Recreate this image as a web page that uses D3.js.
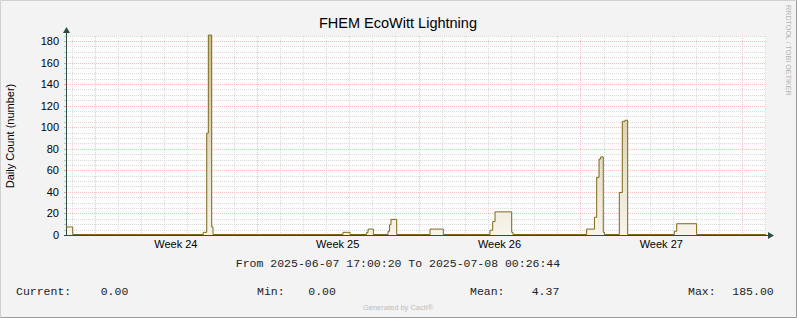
<!DOCTYPE html>
<html>
<head>
<meta charset="utf-8">
<script src="https://cdn.jsdelivr.net/npm/d3@7"></script>
<style>
  html, body { margin: 0; padding: 0; background: #f3f3f3; }
  svg { display: block; }
</style>
</head>
<body>
<svg id="chart" width="797" height="318"></svg>
<script>
// ---------------- data ----------------
const title = "FHEM EcoWitt Lightning";
const yAxisTitle = "Daily Count (number)";
const periodText = "From 2025-06-07 17:00:20 To 2025-07-08 00:26:44";
const sideText = "RRDTOOL / TOBI OETIKER";
const footerText = "Generated by Cacti®";

// step series: value holds from this time until the next time
const times = [
  "2025-06-07T17:53", "2025-06-08T00:50",
  "2025-06-13T16:25", "2025-06-13T20:00", "2025-06-13T21:40", "2025-06-14T01:10", "2025-06-14T02:30",
  "2025-06-19T17:30", "2025-06-20T00:45",
  "2025-06-20T18:05", "2025-06-20T19:30", "2025-06-21T01:00",
  "2025-06-21T16:15", "2025-06-21T17:50", "2025-06-21T19:20", "2025-06-22T01:15",
  "2025-06-23T11:50", "2025-06-24T01:40",
  "2025-06-26T02:05", "2025-06-26T04:55", "2025-06-26T07:20", "2025-06-27T00:40", "2025-06-27T02:00",
  "2025-06-30T06:30", "2025-06-30T14:35", "2025-06-30T16:55", "2025-06-30T19:20", "2025-06-30T21:05", "2025-06-30T23:45", "2025-07-01T01:00",
  "2025-07-01T16:25", "2025-07-01T19:30", "2025-07-01T22:20", "2025-07-02T01:05",
  "2025-07-04T01:30", "2025-07-04T04:00", "2025-07-05T00:40",
  "2025-07-08T00:43"
];
const values = [
  7, 0,
  2, 94, 185, 7, 0,
  2, 0,
  2, 5, 0,
  3, 9, 14, 0,
  5, 0,
  4, 12, 21, 2, 0,
  5, 16, 53, 70, 72, 2, 0,
  39, 105, 106, 0,
  3, 10, 0,
  0
];

const yTicks = [0, 20, 40, 60, 80, 100, 120, 140, 160, 180];
const weekLabels = ["Week 24", "Week 25", "Week 26", "Week 27"];
const timeDomain = ["2025-06-07T17:53", "2025-07-08T00:43"];
const yDomain = [0, 185];

const legendLabels = ["Current:", "Min:", "Mean:", "Max:"];
const legendValues = ["0.00", "0.00", "4.37", "185.00"];

// ---------------- drawing ----------------
const W = 797, H = 318;
const plot = { left: 66, right: 766, top: 35.6, bottom: 235 };
const svg = d3.select("#chart");
const parse = s => new Date(s);

const x = d3.scaleTime()
  .domain(timeDomain.map(parse))
  .range([plot.left, plot.right]);
const y = d3.scaleLinear()
  .domain(yDomain)
  .range([plot.bottom, plot.top]);

// background + border
svg.append("rect").attr("x", 0).attr("y", 0).attr("width", W).attr("height", H).attr("fill", "#f3f3f3");
svg.append("path").attr("d", `M0.5,${H - 0.5} V0.5 H${W - 0.5}`).attr("fill", "none").attr("stroke", "#d0d0d0");
svg.append("path").attr("d", `M${W - 0.5},0.5 V${H - 0.5} H0.5`).attr("fill", "none").attr("stroke", "#9a9a9a");

// canvas
svg.append("rect")
  .attr("x", plot.left).attr("y", Math.round(plot.top))
  .attr("width", plot.right - plot.left).attr("height", plot.bottom - Math.round(plot.top))
  .attr("fill", "#fdfdfd");

const grid = svg.append("g").attr("shape-rendering", "crispEdges");
const px = v => Math.round(v) + 0.5;
const minorColor = "#dadada", majorColor = "#f6c0c0";

// horizontal grid
const minorY = d3.range(5, 186, 5).filter(v => v % 20 !== 0);
const majorY = yTicks.filter(v => v > 0);
grid.selectAll("line.hmin").data(minorY).join("line")
  .attr("x1", plot.left).attr("x2", plot.right)
  .attr("y1", d => px(y(d))).attr("y2", d => px(y(d)))
  .attr("stroke", minorColor).attr("stroke-dasharray", "1,1");
// vertical grid
const [t0, t1] = x.domain();
const days = d3.timeDay.range(t0, t1).filter(d => d.getDay() !== 1);
const mondays = d3.timeMonday.range(t0, t1);
grid.selectAll("line.vmin").data(days).join("line")
  .attr("y1", Math.round(plot.top)).attr("y2", plot.bottom)
  .attr("x1", d => px(x(d))).attr("x2", d => px(x(d)))
  .attr("stroke", minorColor).attr("stroke-dasharray", "1,1");
grid.selectAll("line.hmaj").data(majorY).join("line")
  .attr("x1", plot.left).attr("x2", plot.right)
  .attr("y1", d => px(y(d))).attr("y2", d => px(y(d)))
  .attr("stroke", majorColor).attr("stroke-dasharray", "1,1");
grid.selectAll("line.vmaj").data(mondays).join("line")
  .attr("y1", Math.round(plot.top)).attr("y2", plot.bottom)
  .attr("x1", d => px(x(d))).attr("x2", d => px(x(d)))
  .attr("stroke", majorColor).attr("stroke-dasharray", "1,1");

// small axis ticks
grid.selectAll("line.yt").data(minorY.concat(majorY)).join("line")
  .attr("x1", plot.left - 2).attr("x2", plot.left)
  .attr("y1", d => px(y(d))).attr("y2", d => px(y(d)))
  .attr("stroke", d => d % 20 === 0 ? "#eaa0a0" : "#c4c4c4");

// data
const data = times.map((t, i) => ({ t: parse(t), v: values[i] }));
const defs = svg.append("defs");
const grad = defs.append("linearGradient").attr("id", "fillGrad")
  .attr("gradientUnits", "userSpaceOnUse")
  .attr("x1", 0).attr("x2", 0).attr("y1", y(185)).attr("y2", y(0));
grad.append("stop").attr("offset", "0%").attr("stop-color", "#c9bb8e");
grad.append("stop").attr("offset", "100%").attr("stop-color", "#f7f4ea");

const area = d3.area().curve(d3.curveStepAfter)
  .x(d => x(d.t)).y0(y(0)).y1(d => y(d.v));
const line = d3.line().curve(d3.curveStepAfter)
  .x(d => x(d.t)).y(d => y(d.v) - 0.5);

svg.append("path").datum(data).attr("d", area).attr("fill", "url(#fillGrad)");

// axes
const axisColor = "#2c4d43";
svg.append("line").attr("x1", plot.left + 0.5).attr("x2", plot.left + 0.5)
  .attr("y1", plot.bottom + 1).attr("y2", 30).attr("stroke", axisColor).attr("shape-rendering", "crispEdges");
svg.append("line").attr("x1", plot.left - 2).attr("x2", plot.right + 3)
  .attr("y1", plot.bottom + 0.5).attr("y2", plot.bottom + 0.5).attr("stroke", axisColor).attr("shape-rendering", "crispEdges");
svg.append("path").attr("d", `M${plot.left + 0.5},27 L${plot.left + 4},33 L${plot.left - 3},33 Z`).attr("fill", axisColor);
svg.append("path").attr("d", `M${plot.right + 8},${plot.bottom + 0.5} L${plot.right + 2},${plot.bottom - 3} L${plot.right + 2},${plot.bottom + 4} Z`).attr("fill", axisColor);

svg.append("path").datum(data).attr("d", line)
  .attr("fill", "none").attr("stroke", "#7d6718").attr("stroke-width", 1);

// y tick labels
const sans = "'Liberation Sans', Arial, sans-serif";
const mono = "'Liberation Mono', 'Courier New', monospace";
svg.append("g").selectAll("text").data(yTicks).join("text")
  .attr("x", 59).attr("y", d => y(d) + 4)
  .attr("text-anchor", "end")
  .attr("font-family", sans).attr("font-size", 11).attr("fill", "#000")
  .text(d => d);

// week labels centred on each week
svg.append("g").selectAll("text").data(mondays.slice(0, weekLabels.length)).join("text")
  .attr("x", d => x(d3.timeHour.offset(d, 84)))
  .attr("y", 248)
  .attr("text-anchor", "middle")
  .attr("font-family", sans).attr("font-size", 11).attr("fill", "#000")
  .text((d, i) => weekLabels[i]);

// title
svg.append("text").attr("x", 398).attr("y", 27.5).attr("text-anchor", "middle")
  .attr("font-family", sans).attr("font-size", 14.5).attr("fill", "#000").text(title);

// y axis title
svg.append("text").attr("transform", "translate(14,136) rotate(-90)")
  .attr("text-anchor", "middle").attr("font-family", sans).attr("font-size", 11)
  .attr("fill", "#000").text(yAxisTitle);

// side text
svg.append("text").attr("transform", "translate(786,5) rotate(90)")
  .attr("text-anchor", "start").attr("font-family", sans).attr("font-size", 7.2)
  .attr("fill", "#b4b4b4").text(sideText);

// period
svg.append("text").attr("x", 398).attr("y", 267).attr("text-anchor", "middle")
  .attr("font-family", mono).attr("font-size", 11.5).attr("fill", "#222").text(periodText);

// legend
const labelX = [16, 257, 470, 688];
const valueX = [100.7, 308.3, 531.7, 732.3];
const lg = svg.append("g").attr("font-family", mono).attr("font-size", 11.5).attr("fill", "#222");
lg.selectAll("text.l").data(legendLabels).join("text")
  .attr("x", (d, i) => labelX[i]).attr("y", 295).text(d => d);
lg.selectAll("text.v").data(legendValues).join("text")
  .attr("x", (d, i) => valueX[i]).attr("y", 295).text(d => d);

// footer
svg.append("text").attr("x", 398).attr("y", 310).attr("text-anchor", "middle")
  .attr("font-family", sans).attr("font-size", 7.5).attr("fill", "#bdbdbd").text(footerText);
</script>
</body>
</html>
